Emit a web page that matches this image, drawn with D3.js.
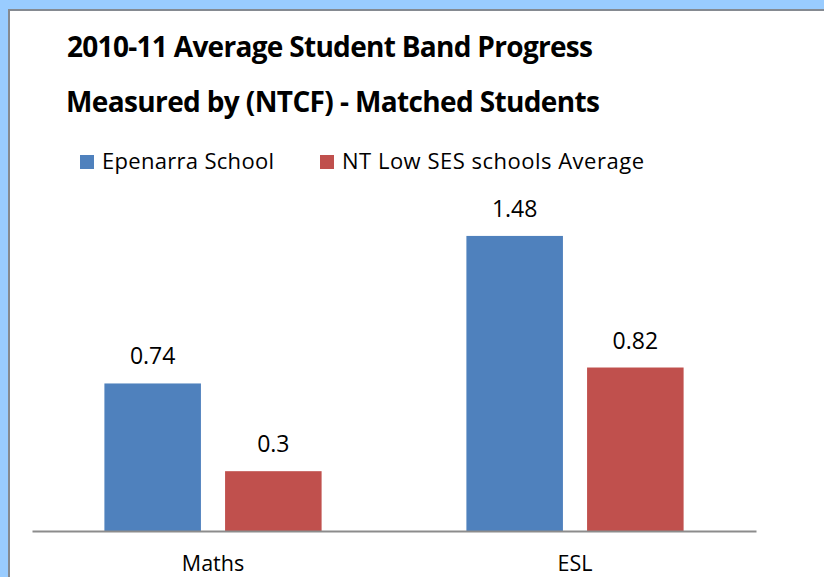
<!DOCTYPE html>
<html>
<head>
<meta charset="utf-8">
<script src="https://cdn.jsdelivr.net/npm/d3@7"></script>
<style>
  html, body { margin: 0; padding: 0; background: #99ccff; }
  svg { display: block; }
  text { font-family: "Open Sans", Lato, sans-serif; fill: #000; }
</style>
</head>
<body>
<svg id="chart" width="824" height="577"></svg>
<script>
const categories = ["Maths", "ESL"];
const seriesNames = ["Epenarra School", "NT Low SES schools Average"];
const epenarraValues = [0.74, 1.48];
const ntLowSesValues = [0.3, 0.82];
const seriesColors = ["#4f81bd", "#c0504d"];
const titleLines = ["2010-11 Average Student Band Progress", "Measured by (NTCF) - Matched Students"];

const svg = d3.select("#chart");
const W = 824, H = 577;

// panel
svg.append("rect").attr("x", 0).attr("y", 0).attr("width", W).attr("height", H).attr("fill", "#99ccff");
svg.append("rect").attr("x", 9).attr("y", 10).attr("width", W + 20).attr("height", H + 20)
  .attr("fill", "#ffffff").attr("stroke", "#858a91").attr("stroke-width", 2);

// titles
svg.append("text").attr("x", 67).attr("y", 57).attr("font-size", 28).attr("font-weight", "bold")
  .attr("textLength", 526).text(titleLines[0]);
svg.append("text").attr("x", 66).attr("y", 112).attr("font-size", 28).attr("font-weight", "bold")
  .attr("textLength", 534).text(titleLines[1]);

// legend
const legendX = [80, 320];
const legendW = [172, 302];
seriesNames.forEach((name, i) => {
  svg.append("rect").attr("x", legendX[i]).attr("y", 155).attr("width", 14).attr("height", 14).attr("fill", seriesColors[i]);
  svg.append("text").attr("x", legendX[i] + 22).attr("y", 169).attr("font-size", 22)
    .attr("textLength", legendW[i]).text(name);
});

const series = [epenarraValues, ntLowSesValues];
const x0 = d3.scaleBand().domain(categories).range([32, 756]);
const x1 = d3.scaleBand().domain(d3.range(series.length)).range([0, x0.bandwidth()]).paddingInner(0.2).paddingOuter(0.6);
const y = d3.scaleLinear().domain([0, 1.6]).range([531, 212]);

const data = [];
categories.forEach((c, ci) => series.forEach((s, si) => data.push({cat: c, si, v: s[ci]})));

const g = svg.append("g");
g.selectAll("rect.bar").data(data).enter().append("rect").attr("class", "bar")
  .attr("x", d => x0(d.cat) + x1(d.si))
  .attr("width", x1.bandwidth())
  .attr("y", d => y(d.v))
  .attr("height", d => y(0) - y(d.v))
  .attr("fill", d => seriesColors[d.si]);

g.selectAll("text.val").data(data).enter().append("text").attr("class", "val")
  .attr("x", d => x0(d.cat) + x1(d.si) + x1.bandwidth() / 2)
  .attr("y", d => y(d.v) - 19)
  .attr("text-anchor", "middle").attr("font-size", 23)
  .text(d => d.v);

// axis
const xAxis = d3.axisBottom(x0).tickSize(0).tickPadding(0);
const ax = svg.append("g").attr("transform", `translate(0,${y(0)})`).call(xAxis);
ax.select(".domain").attr("stroke", "#8c8c8c").attr("stroke-width", 2);
ax.selectAll(".tick text").attr("font-size", 21.5).attr("font-family", "'Open Sans', sans-serif")
  .attr("fill", "#000").attr("dy", null).attr("y", 39.5);
</script>
</body>
</html>
